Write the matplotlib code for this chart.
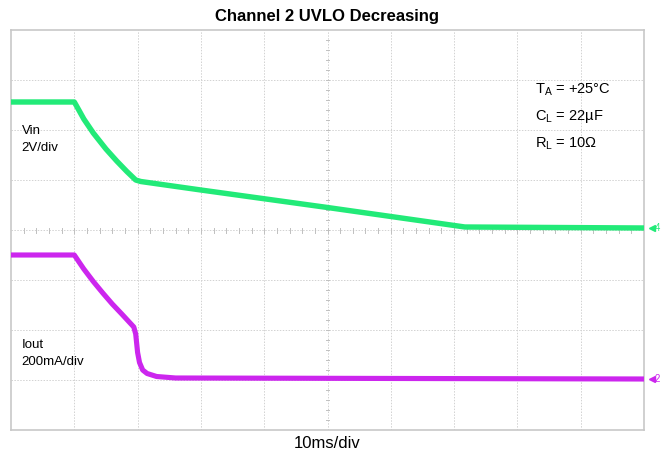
import numpy as np
import matplotlib
matplotlib.use("Agg")
import matplotlib.pyplot as plt

plt.rcParams['font.family'] = ['Liberation Sans', 'DejaVu Sans']

# time axis in divisions (10ms/div), values in divisions from bottom of screen
vin_t = [0.0, 1.0, 1.08, 1.15, 1.3, 1.5, 1.67, 1.83, 1.97, 2.05, 3.0, 5.0, 7.17, 10.0]
vin_v = [6.56, 6.56, 6.38, 6.22, 5.94, 5.62, 5.38, 5.17, 5.00, 4.97, 4.80, 4.45, 4.06, 4.04]

iout_t = [0.0, 1.0, 1.08, 1.15, 1.3, 1.45, 1.6, 1.75, 1.94, 1.97, 2.0, 2.03, 2.08, 2.15, 2.3, 2.6, 10.0]
iout_v = [3.50, 3.50, 3.35, 3.22, 2.97, 2.74, 2.52, 2.32, 2.06, 1.92, 1.55, 1.35, 1.20, 1.13, 1.07, 1.04, 1.02]

green = '#22ea78'
magenta = '#cc26ee'

fig = plt.figure(figsize=(6.7, 4.59), dpi=100)
ax = fig.add_axes([11/670, 29/459, 633/670, 400/459])
ax.set_xlim(0, 10)
ax.set_ylim(0, 8)
ax.set_xticks([])
ax.set_yticks([])
for s in ax.spines.values():
    s.set_color('#c8c8c8')
    s.set_linewidth(1.2)

# graticule
for x in range(1, 10):
    ax.axvline(x, color='#d2d2d2', lw=0.7, ls=(0, (1.5, 1.5)), zorder=1)
for y in range(1, 8):
    ax.axhline(y, color='#d2d2d2', lw=0.7, ls=(0, (1.5, 1.5)), zorder=1)
# minor ticks on centre lines
for x in np.arange(0.2, 10, 0.2):
    ax.plot([x, x], [3.95, 4.05], color='#c0c0c0', lw=0.7, zorder=1)
for y in np.arange(0.2, 8, 0.2):
    ax.plot([4.97, 5.03], [y, y], color='#c0c0c0', lw=0.7, zorder=1)

ax.plot(vin_t, vin_v, color=green, lw=3.9, solid_joinstyle='round', zorder=3)
ax.plot(iout_t, iout_v, color=magenta, lw=3.7, solid_joinstyle='round', zorder=3)

ax.text(0.17, 5.98, 'Vin', fontsize=9.5, va='center')
ax.text(0.17, 5.64, '2V/div', fontsize=9.5, va='center')
ax.text(0.17, 1.70, 'Iout', fontsize=9.5, va='center')
ax.text(0.17, 1.36, '200mA/div', fontsize=9.5, va='center')

ax.text(8.28, 6.8, r'T$_\mathregular{A}$ = +25°C', fontsize=10.5, va='center')
ax.text(8.28, 6.27, r'C$_\mathregular{L}$ = 22µF', fontsize=10.5, va='center')
ax.text(8.28, 5.73, r'R$_\mathregular{L}$ = 10Ω', fontsize=10.5, va='center')

# channel markers
ax.plot([10.12], [4.04], marker='<', color=green, ms=4, clip_on=False)
ax.text(10.17, 4.04, '4', color=green, fontsize=7, va='center', clip_on=False)
ax.plot([10.12], [1.02], marker='<', color=magenta, ms=4, clip_on=False)
ax.text(10.17, 1.02, '2', color=magenta, fontsize=7, va='center', clip_on=False)

fig.text(327/670, 1 - 17/459, 'Channel 2 UVLO Decreasing', fontsize=12,
         fontweight='bold', ha='center', va='center')
fig.text(327/670, 1 - 443/459, '10ms/div', fontsize=12, ha='center', va='center')

fig.savefig('out.png', dpi=100)
